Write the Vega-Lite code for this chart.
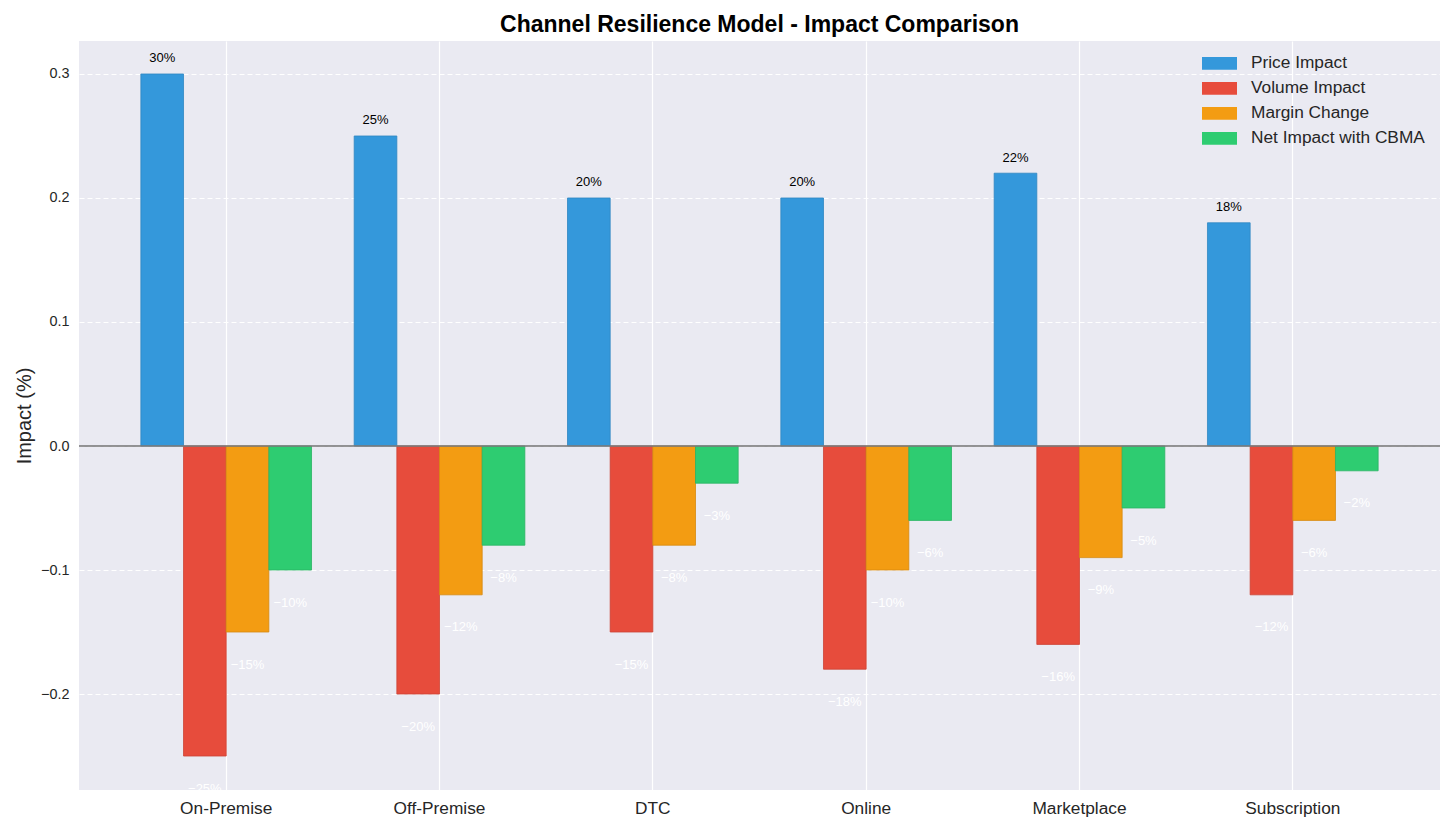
{
  "$schema": "https://vega.github.io/schema/vega-lite/v6.json",
  "width": 1361,
  "height": 749,
  "autosize": {"type": "none"},
  "padding": {"left": 79, "top": 41, "right": 16, "bottom": 42},
  "background": "white",
  "config": {
    "font": "Liberation Sans",
    "view": {"fill": "#EAEAF2", "stroke": null},
    "axis": {"domain": false, "ticks": false, "labelColor": "#262626", "titleColor": "#262626", "gridColor": "white", "gridOpacity": 1},
    "axisX": {"labelFontSize": 17.3, "labelPadding": 9, "labelAngle": 0, "gridWidth": 1.2, "bandPosition": 0.5, "grid": true},
    "axisY": {"labelFontSize": 14.4, "labelPadding": 10, "gridDash": [5, 3], "gridWidth": 1}
  },
  "title": {
    "text": "Channel Resilience Model - Impact Comparison",
    "fontSize": 23,
    "fontWeight": "bold",
    "color": "black",
    "anchor": "middle",
    "baseline": "alphabetic",
    "offset": 9,
    "dy": 23
  },
  "data": {
    "values": [
      {"channel": "On-Premise", "series": "Price Impact", "value": 0.30},
      {"channel": "On-Premise", "series": "Volume Impact", "value": -0.25},
      {"channel": "On-Premise", "series": "Margin Change", "value": -0.15},
      {"channel": "On-Premise", "series": "Net Impact with CBMA", "value": -0.10},
      {"channel": "Off-Premise", "series": "Price Impact", "value": 0.25},
      {"channel": "Off-Premise", "series": "Volume Impact", "value": -0.20},
      {"channel": "Off-Premise", "series": "Margin Change", "value": -0.12},
      {"channel": "Off-Premise", "series": "Net Impact with CBMA", "value": -0.08},
      {"channel": "DTC", "series": "Price Impact", "value": 0.20},
      {"channel": "DTC", "series": "Volume Impact", "value": -0.15},
      {"channel": "DTC", "series": "Margin Change", "value": -0.08},
      {"channel": "DTC", "series": "Net Impact with CBMA", "value": -0.03},
      {"channel": "Online", "series": "Price Impact", "value": 0.20},
      {"channel": "Online", "series": "Volume Impact", "value": -0.18},
      {"channel": "Online", "series": "Margin Change", "value": -0.10},
      {"channel": "Online", "series": "Net Impact with CBMA", "value": -0.06},
      {"channel": "Marketplace", "series": "Price Impact", "value": 0.22},
      {"channel": "Marketplace", "series": "Volume Impact", "value": -0.16},
      {"channel": "Marketplace", "series": "Margin Change", "value": -0.09},
      {"channel": "Marketplace", "series": "Net Impact with CBMA", "value": -0.05},
      {"channel": "Subscription", "series": "Price Impact", "value": 0.18},
      {"channel": "Subscription", "series": "Volume Impact", "value": -0.12},
      {"channel": "Subscription", "series": "Margin Change", "value": -0.06},
      {"channel": "Subscription", "series": "Net Impact with CBMA", "value": -0.02}
    ]
  },
  "layer": [
    {
      "encoding": {
        "x": {
          "field": "channel", "type": "nominal", "title": null,
          "sort": ["On-Premise", "Off-Premise", "DTC", "Online", "Marketplace", "Subscription"],
          "scale": {"paddingInner": 0.2, "paddingOuter": 0.29},
          "axis": {"grid": true, "bandPosition": 0.5}
        },
        "xOffset": {
          "field": "series", "type": "nominal",
          "sort": ["Price Impact", "Volume Impact", "Margin Change", "Net Impact with CBMA"],
          "scale": {"paddingInner": 0, "paddingOuter": 0}
        },
        "y": {
          "field": "value", "type": "quantitative", "title": "Impact (%)",
          "scale": {"domain": [-0.2774, 0.3266], "nice": false, "zero": false},
          "axis": {
            "values": [-0.2, -0.1, 0, 0.1, 0.2, 0.3],
            "format": ".1f",
            "titleFontSize": 20,
            "titleFontWeight": "normal",
            "titleX": -55,
            "titleY": 374.5,
            "titleAlign": "center",
            "titleBaseline": "middle",
            "titleAngle": -90
          }
        }
      },
      "layer": [
        {
          "mark": {"type": "bar", "strokeWidth": 0.8},
          "encoding": {
            "color": {
              "field": "series", "type": "nominal",
              "scale": {
                "domain": ["Price Impact", "Volume Impact", "Margin Change", "Net Impact with CBMA"],
                "range": ["#3498db", "#e74c3c", "#f39c12", "#2ecc71"]
              },
              "legend": {
                "title": null,
                "orient": "none",
                "legendX": 1123,
                "legendY": 10,
                "symbolType": "M-1,-0.36L1,-0.36L1,0.36L-1,0.36Z",
                "symbolSize": 1225,
                "symbolStrokeWidth": 0,
                "symbolOpacity": 1,
                "labelFontSize": 17.3,
                "labelColor": "#262626",
                "labelOffset": 14,
                "labelLimit": 400,
                "clipHeight": 24.7,
                "rowPadding": 0
              }
            },
            "stroke": {
              "field": "series", "type": "nominal",
              "scale": {
                "domain": ["Price Impact", "Volume Impact", "Margin Change", "Net Impact with CBMA"],
                "range": ["#2e86c1", "#cb4335", "#d68910", "#28b463"]
              },
              "legend": null
            }
          }
        },
        {
          "transform": [{"filter": "datum.value > 0"}],
          "mark": {"type": "text", "fontSize": 13, "color": "black", "baseline": "middle", "dy": -15.5},
          "encoding": {"text": {"field": "value", "type": "quantitative", "format": ".0%"}}
        },
        {
          "transform": [{"filter": "datum.value < 0"}],
          "mark": {"type": "text", "fontSize": 13, "color": "white", "baseline": "middle", "dy": 32.5, "clip": true},
          "encoding": {"text": {"field": "value", "type": "quantitative", "format": ".0%"}}
        }
      ]
    },
    {
      "data": {"values": [{}]},
      "mark": {"type": "rule", "color": "#7a7a7a", "strokeWidth": 2, "opacity": 0.8},
      "encoding": {"y": {"datum": 0, "type": "quantitative"}}
    }
  ]
}
